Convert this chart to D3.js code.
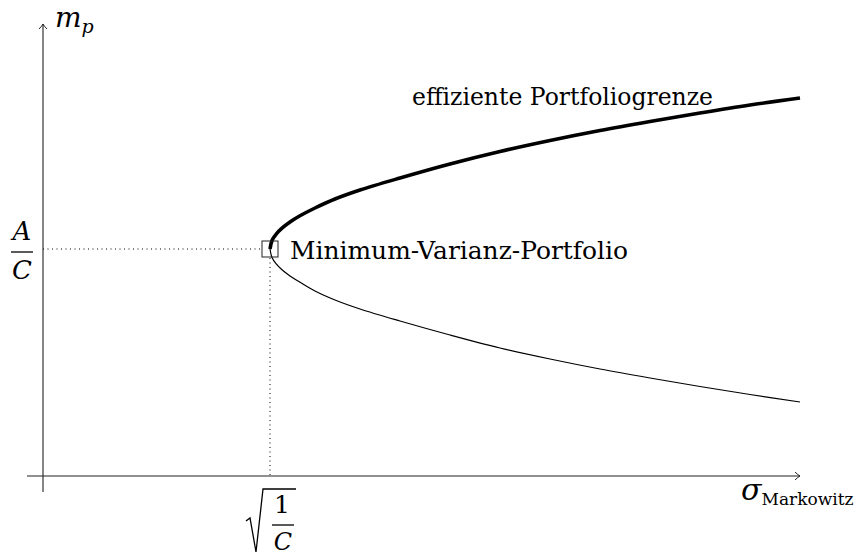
<!DOCTYPE html>
<html>
<head>
<meta charset="utf-8">
<script src="https://cdn.jsdelivr.net/npm/d3@7"></script>
<style>
  body { margin: 0; background: #fff; }
  svg text { font-family: "DejaVu Serif", serif; fill: #000; }
</style>
</head>
<body>
<svg id="chart" width="859" height="556"></svg>
<script>
// sigma values sampled along the frontier (both branches share them)
const sigmaVals = [2.27, 2.29, 2.33, 2.39, 2.47, 2.57, 2.72, 2.92, 3.17, 3.57, 4.07, 4.57, 5.07, 5.57, 6.07, 6.57, 7.07, 7.57];
// efficient (upper) branch
const upperM = [2.27, 2.355, 2.417, 2.478, 2.54, 2.602, 2.68, 2.77, 2.86, 2.98, 3.12, 3.245, 3.355, 3.455, 3.545, 3.63, 3.71, 3.78];
// inefficient (lower) branch
const lowerM = [2.27, 2.185, 2.123, 2.062, 2.00, 1.938, 1.85, 1.76, 1.67, 1.55, 1.41, 1.28, 1.17, 1.07, 0.98, 0.895, 0.815, 0.74];
// minimum variance portfolio
const mvpSigma = 2.27;   // sqrt(1/C)
const mvpM = 2.27;       // A/C
const curveLabel = "effiziente Portfoliogrenze";
const mvpLabel = "Minimum-Varianz-Portfolio";

var svg = d3.select("#chart");

var x = d3.scaleLinear().domain([0, 7.57]).range([43, 800]);
var y = d3.scaleLinear().domain([0, 4.52]).range([476, 24]);

var upper = sigmaVals.map((s, i) => [s, upperM[i]]);
var lower = sigmaVals.map((s, i) => [s, lowerM[i]]);

var line = d3.line()
    .x(d => x(d[0]))
    .y(d => y(d[1]))
    .curve(d3.curveCatmullRom.alpha(0.5));

// axes with open arrow heads
var axisColor = "#222";
svg.append("line")
    .attr("x1", x(-0.16)).attr("y1", y(0))
    .attr("x2", x(7.57)).attr("y2", y(0))
    .attr("stroke", axisColor).attr("stroke-width", 1.1);
svg.append("line")
    .attr("x1", x(0)).attr("y1", y(-0.16))
    .attr("x2", x(0)).attr("y2", y(4.52))
    .attr("stroke", axisColor).attr("stroke-width", 1.1);

var xt = [x(7.57), y(0)], yt = [x(0), y(4.52)];
svg.append("path")
    .attr("d", `M${xt[0]-5},${xt[1]-4} Q${xt[0]-2},${xt[1]-1} ${xt[0]},${xt[1]} Q${xt[0]-2},${xt[1]+1} ${xt[0]-5},${xt[1]+4}`)
    .attr("fill", "none").attr("stroke", axisColor).attr("stroke-width", 1);
svg.append("path")
    .attr("d", `M${yt[0]-4},${yt[1]+5} Q${yt[0]-1},${yt[1]+2} ${yt[0]},${yt[1]} Q${yt[0]+1},${yt[1]+2} ${yt[0]+4},${yt[1]+5}`)
    .attr("fill", "none").attr("stroke", axisColor).attr("stroke-width", 1);

// dotted guides to the axes
svg.append("line")
    .attr("x1", x(0)).attr("y1", y(mvpM))
    .attr("x2", x(mvpSigma) - 8).attr("y2", y(mvpM))
    .attr("stroke", "#000").attr("stroke-width", 1)
    .attr("stroke-dasharray", "1,3.5");
svg.append("line")
    .attr("x1", x(mvpSigma)).attr("y1", y(mvpM) + 9)
    .attr("x2", x(mvpSigma)).attr("y2", y(0))
    .attr("stroke", "#000").attr("stroke-width", 1)
    .attr("stroke-dasharray", "1,3.5");

// frontier branches
svg.append("path")
    .datum(lower)
    .attr("d", line)
    .attr("fill", "none")
    .attr("stroke", "#000")
    .attr("stroke-width", 1.2);
svg.append("path")
    .datum(upper)
    .attr("d", line)
    .attr("fill", "none")
    .attr("stroke", "#000")
    .attr("stroke-width", 3.6);

// MVP marker
svg.append("rect")
    .attr("x", x(mvpSigma) - 8).attr("y", y(mvpM) - 8)
    .attr("width", 16).attr("height", 16)
    .attr("fill", "none").attr("stroke", "#222").attr("stroke-width", 1);

svg.append("text")
    .attr("x", 290).attr("y", y(mvpM) + 10)
    .attr("textLength", 338).attr("lengthAdjust", "spacingAndGlyphs")
    .style("font-size", "24px")
    .text(mvpLabel);

svg.append("text")
    .attr("x", 412).attr("y", 105)
    .attr("textLength", 301).attr("lengthAdjust", "spacingAndGlyphs")
    .style("font-size", "24px")
    .text(curveLabel);

// axis labels
var mp = svg.append("text").attr("x", 55).attr("y", 27).style("font-size", "28px");
mp.append("tspan").style("font-style", "italic").text("m");
mp.append("tspan").attr("dy", 6).style("font-size", "19px").style("font-style", "italic").text("p");

var sg = svg.append("text").attr("x", 741).attr("y", 500).style("font-size", "30px");
sg.append("tspan").style("font-style", "italic").text("σ");
sg.append("tspan").attr("dy", 5).style("font-size", "17px").text("Markowitz");

// A/C tick label
svg.append("text").attr("x", 22).attr("y", 240).attr("text-anchor", "middle")
    .style("font-size", "26px").style("font-style", "italic").text("A");
svg.append("line").attr("x1", 11).attr("x2", 33).attr("y1", 252).attr("y2", 252)
    .attr("stroke", "#000").attr("stroke-width", 1.3);
svg.append("text").attr("x", 22).attr("y", 279).attr("text-anchor", "middle")
    .style("font-size", "26px").style("font-style", "italic").text("C");

// sqrt(1/C) tick label
svg.append("path")
    .attr("d", "M246,521 L250,518 L256,552 L263,489 L296,489")
    .attr("fill", "none").attr("stroke", "#000").attr("stroke-width", 1.3);
svg.append("text").attr("x", 282).attr("y", 513).attr("text-anchor", "middle")
    .style("font-size", "25px").text("1");
svg.append("line").attr("x1", 272).attr("x2", 294).attr("y1", 525).attr("y2", 525)
    .attr("stroke", "#000").attr("stroke-width", 1.3);
svg.append("text").attr("x", 283).attr("y", 550).attr("text-anchor", "middle")
    .style("font-size", "24px").style("font-style", "italic").text("C");
</script>
</body>
</html>
